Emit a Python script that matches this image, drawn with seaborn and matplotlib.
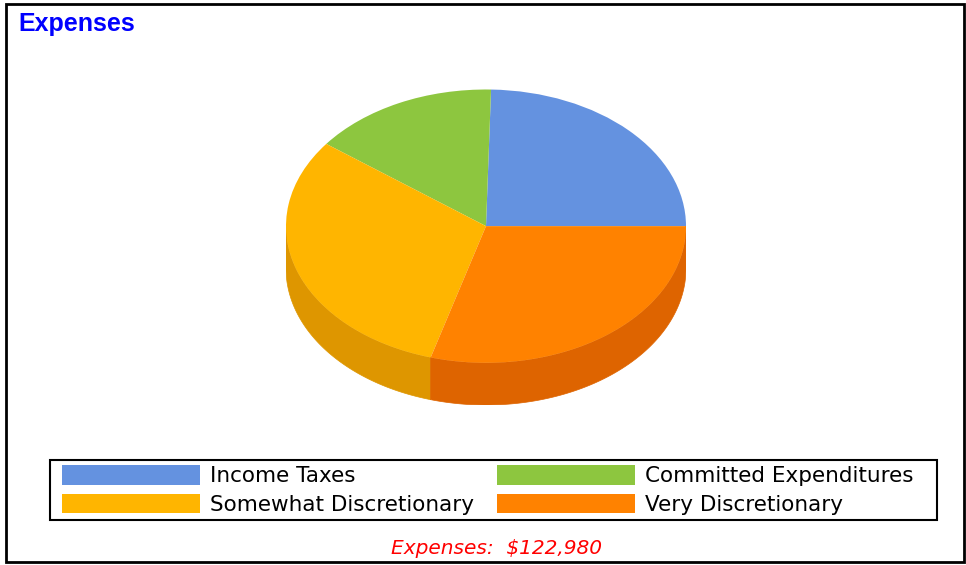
import numpy as np
import matplotlib
matplotlib.use("Agg")
import matplotlib.pyplot as plt
from matplotlib.patches import Polygon, Patch, Rectangle
import seaborn as sns

# Expense breakdown (dollars)
categories = ["Income Taxes", "Committed Expenditures",
              "Somewhat Discretionary", "Very Discretionary"]
amounts = [30250, 18600, 37900, 36230]
top_colors = ["#6492E0", "#8DC63F", "#FFB500", "#FF8200"]
side_colors = ["#4F77BE", "#72A431", "#DE9600", "#DE6400"]
title_text = "Expenses"
total_text = "Expenses:  $122,980"

sns.set_theme(style="white")
plt.rcParams["font.family"] = ["Liberation Sans", "DejaVu Sans"]

W, H = 966, 565
fig = plt.figure(figsize=(W / 100, H / 100), dpi=100)
fig.patch.set_facecolor("white")

# pie axes: unit circle squashed into an ellipse, extra room below for the rim
depth = 0.309
left, right, top, bottom = 286, 686, 89.5, 405
ax = fig.add_axes([left / W, 1 - bottom / H, (right - left) / W, (bottom - top) / H])

wedges, _ = ax.pie(amounts, colors=top_colors, startangle=0, counterclock=True,
                   wedgeprops=dict(linewidth=0, antialiased=True))
for w in wedges:
    w.set_zorder(3)
ax.set_aspect("auto")
ax.set_xlim(-1, 1)
ax.set_ylim(-1 - depth, 1)
ax.axis("off")

# rim of the disc: only the front half (180..360 degrees) is visible
fracs = np.array(amounts, dtype=float) / np.sum(amounts)
edges = np.concatenate([[0], np.cumsum(fracs) * 360])
for i in range(len(amounts)):
    a0, a1 = max(edges[i], 180), min(edges[i + 1], 360)
    if a1 <= a0:
        continue
    th = np.radians(np.linspace(a0, a1, 200))
    x, y = np.cos(th), np.sin(th)
    pts = np.vstack([np.column_stack([x, y]),
                     np.column_stack([x[::-1], y[::-1] - depth])])
    ax.add_patch(Polygon(pts, closed=True, facecolor=side_colors[i],
                         edgecolor=side_colors[i], linewidth=0.5, zorder=1))

# title
fig.text(18 / W, 1 - 31 / H, title_text, color="#0000FF", fontsize=18,
         fontweight="bold", ha="left", va="baseline")

# legend, filled row by row (matplotlib fills columns, so reorder)
order = [0, 2, 1, 3]
fs = 15.5
fs_px = fs * 100 / 72
handles = [Patch(facecolor=top_colors[i], edgecolor="none") for i in order]
labels = [categories[i] for i in order]
leg = fig.legend(handles, labels, ncol=2, loc="upper left",
                 bbox_to_anchor=(62 / W, 1 - 465 / H),
                 frameon=False, labelcolor="black",
                 prop=dict(family="DejaVu Sans", size=fs),
                 handlelength=138 / fs_px, handleheight=22 / fs_px,
                 handletextpad=10 / fs_px, borderaxespad=0,
                 borderpad=0, labelspacing=0.36, columnspacing=1.08)

# legend box
fig.patches.append(Rectangle((50 / W, 1 - 520 / H), 887 / W, 60 / H,
                             transform=fig.transFigure, fill=False,
                             edgecolor="black", linewidth=1.5))

# total line
fig.text(496 / W, 1 - 554 / H, total_text, color="#FF0000",
         fontsize=14.5, family="DejaVu Sans",
         fontstyle="italic", ha="center", va="baseline")

# outer border
fig.patches.append(Rectangle((5.5 / W, 3.5 / H), 958.5 / W, 558 / H,
                             transform=fig.transFigure, fill=False,
                             edgecolor="black", linewidth=2))

fig.savefig("out.png", dpi=100, facecolor="white")
